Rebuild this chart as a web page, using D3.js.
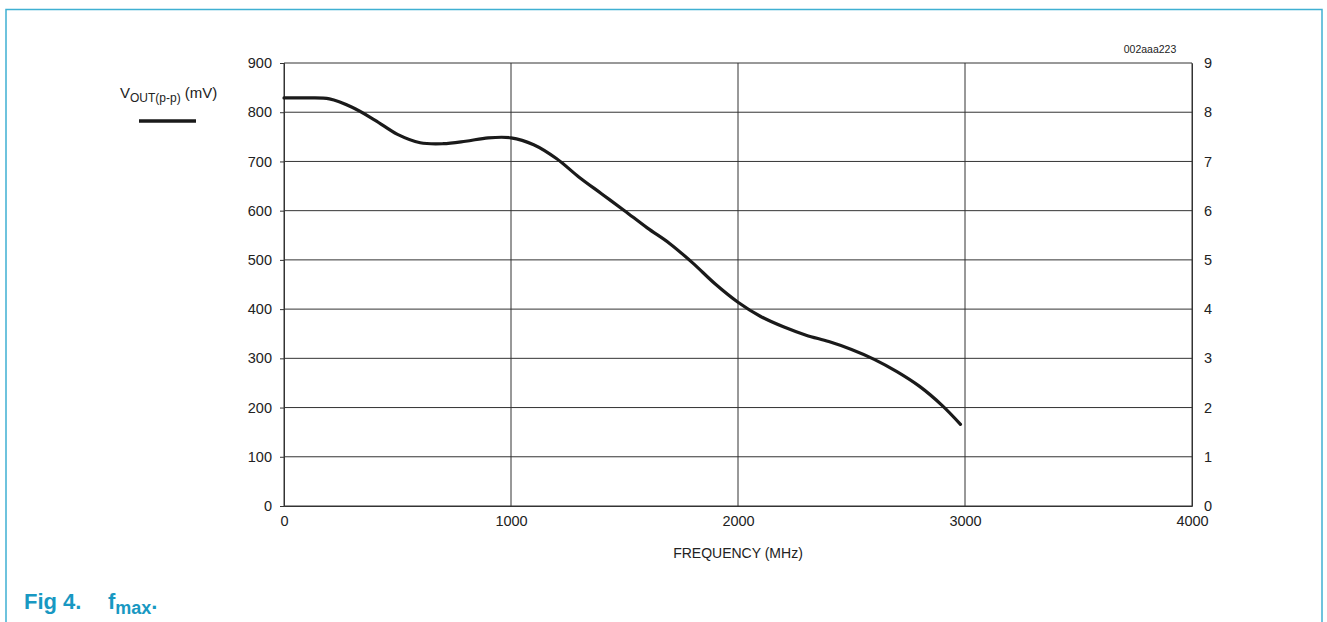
<!DOCTYPE html>
<html>
<head>
<meta charset="utf-8">
<script src="https://cdn.jsdelivr.net/npm/d3@7"></script>
<style>
  body { margin: 0; background: #fff; }
  text { font-family: "Liberation Sans", Arial, sans-serif; fill: #222; }
</style>
</head>
<body>
<div id="chart"></div>
<script>
// frequency (MHz) vs output swing (mV)
const freq = [0, 100, 200, 300, 400, 500, 600, 700, 800, 900, 1000, 1100, 1200, 1300,
  1400, 1500, 1600, 1700, 1800, 1900, 2000, 2100, 2200, 2300, 2400, 2500, 2600, 2700,
  2800, 2900, 2980];
const vOut = [829, 829, 827, 810, 784, 755, 738, 736, 741, 748, 748, 734, 706, 668,
  634, 600, 565, 533, 494, 451, 414, 385, 364, 347, 334, 318, 298, 273,
  243, 204, 166];
const xTicks = [0, 1000, 2000, 3000, 4000];
const yTicks = [0, 100, 200, 300, 400, 500, 600, 700, 800, 900];
const y2Ticks = [0, 1, 2, 3, 4, 5, 6, 7, 8, 9];

const W = 1327, H = 622;
const margin = { top: 63, right: 135, bottom: 116, left: 284 };
const width = W - margin.left - margin.right;
const height = H - margin.top - margin.bottom;

const svg = d3.select('#chart').append('svg')
  .attr('width', W).attr('height', H);

// page frame
svg.append('rect')
  .attr('x', 6).attr('y', 9.5).attr('width', 1316).attr('height', 700)
  .attr('fill', 'none').attr('stroke', '#3fb0d2').attr('stroke-width', 1.5);

const g = svg.append('g').attr('transform', `translate(${margin.left},${margin.top})`);

const x = d3.scaleLinear().domain([0, 4000]).range([0, width]);
const y = d3.scaleLinear().domain([0, 900]).range([height, 0]);
const y2 = d3.scaleLinear().domain([0, 9]).range([height, 0]);

// grid
g.append('g').selectAll('line').data(yTicks).enter().append('line')
  .attr('x1', 0).attr('x2', width)
  .attr('y1', d => y(d)).attr('y2', d => y(d))
  .attr('stroke', '#333').attr('stroke-width', 1);
g.append('g').selectAll('line').data(xTicks).enter().append('line')
  .attr('x1', d => x(d)).attr('x2', d => x(d))
  .attr('y1', 0).attr('y2', height)
  .attr('stroke', '#333').attr('stroke-width', 1);

const style = (sel) => {
  sel.select('.domain').attr('stroke', '#333');
  sel.selectAll('.tick line').attr('stroke', '#333');
  sel.selectAll('.tick text').style('font-size', '14.5px').attr('fill', '#222');
};

g.append('g').attr('transform', `translate(0,${height})`)
  .call(d3.axisBottom(x).tickValues(xTicks).tickSize(0).tickPadding(10).tickFormat(d3.format('d')))
  .call(style);
g.append('g')
  .call(d3.axisLeft(y).tickValues(yTicks).tickSize(4).tickPadding(8))
  .call(style);
g.append('g').attr('transform', `translate(${width},0)`)
  .call(d3.axisRight(y2).tickValues(y2Ticks).tickSize(0).tickPadding(12))
  .call(style);

// curve
const line = d3.line()
  .x((d, i) => x(freq[i]))
  .y(d => y(d))
  .curve(d3.curveCatmullRom.alpha(0.5));
g.append('path').datum(vOut)
  .attr('d', line)
  .attr('fill', 'none').attr('stroke', '#1a1a1a')
  .attr('stroke-width', 3.2).attr('stroke-linecap', 'round').attr('stroke-linejoin', 'round');

// axis title
svg.append('text').attr('x', margin.left + width / 2).attr('y', 558)
  .attr('text-anchor', 'middle').style('font-size', '14px').text('FREQUENCY (MHz)');

// legend
const leg = svg.append('text').attr('x', 120).attr('y', 98).style('font-size', '15px');
leg.append('tspan').text('V');
leg.append('tspan').attr('dy', 4).style('font-size', '12px').text('OUT(p-p)');
leg.append('tspan').attr('dy', -4).text(' (mV)');
svg.append('line').attr('x1', 139).attr('x2', 196).attr('y1', 121).attr('y2', 121)
  .attr('stroke', '#1a1a1a').attr('stroke-width', 3.5);

svg.append('text').attr('x', 1150).attr('y', 53).attr('text-anchor', 'middle')
  .style('font-size', '10.5px').text('002aaa223');

// caption
const cap = svg.append('text').attr('x', 24).attr('y', 609)
  .style('font-size', '22px').style('font-weight', 'bold').style('fill', '#1898c2');
cap.append('tspan').text('Fig 4.');
cap.append('tspan').attr('x', 108).text('f');
cap.append('tspan').attr('dy', 5).style('font-size', '18px').text('max');
cap.append('tspan').attr('dy', -5).text('.');
</script>
</body>
</html>
